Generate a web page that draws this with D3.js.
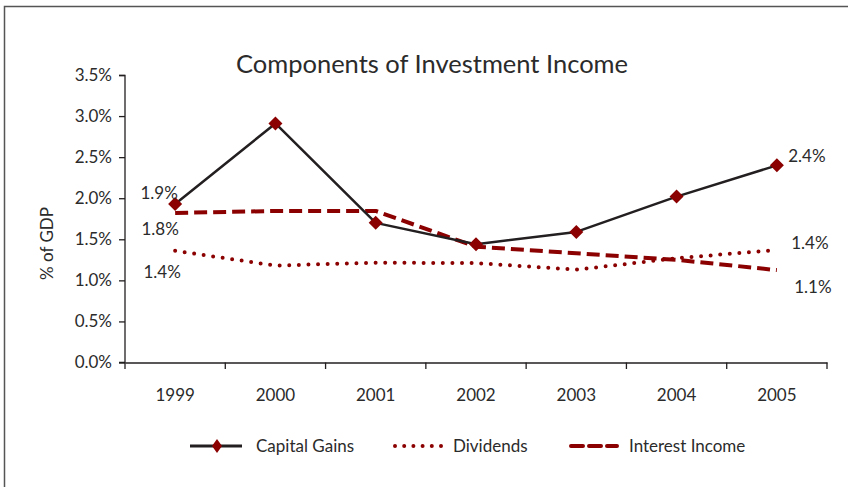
<!DOCTYPE html>
<html><head><meta charset="utf-8">
<script src="https://cdn.jsdelivr.net/npm/d3@7"></script>
<style>body{margin:0;background:#fff}svg{display:block}text{font-family:Lato,sans-serif;fill:#2b2b2b}</style>
</head><body><svg id="c" width="848" height="487"></svg>
<script>
const years = ["1999","2000","2001","2002","2003","2004","2005"];
const capitalGains = [1.93, 2.91, 1.70, 1.44, 1.59, 2.02, 2.40];
const dividends = [1.36, 1.18, 1.215, 1.21, 1.13, 1.27, 1.37];
const interestIncome = [1.82, 1.845, 1.845, 1.41, 1.33, 1.25, 1.125];
const yTicks = [0, 0.5, 1.0, 1.5, 2.0, 2.5, 3.0, 3.5];
const title = "Components of Investment Income";
const yTitle = "% of GDP";
const seriesNames = ["Capital Gains", "Dividends", "Interest Income"];
const endLabels = [
  {s:0, i:0, t:"1.9%"}, {s:2, i:0, t:"1.8%"}, {s:1, i:0, t:"1.4%"},
  {s:0, i:6, t:"2.4%"}, {s:1, i:6, t:"1.4%"}, {s:2, i:6, t:"1.1%"}
];

const svg = d3.select("#c");
const red = "#8b0000", dark = "#231f20", txt = "#2b2b2b";
const FONT = "Lato";
svg.append("path").attr("d","M4.5,487 V6.5 H848").attr("fill","none").attr("stroke","#555").attr("stroke-width",1.5);

const x = d3.scaleBand().domain(years).range([125, 827]);
const y = d3.scaleLinear().domain([0, 3.5]).range([362.5, 75]);

svg.append("text").attr("x", 432).attr("y", 73).attr("text-anchor","middle")
  .style("font-size","25.5px").text(title);

const ya = svg.append("g").attr("transform","translate(125,0)")
  .call(d3.axisLeft(y).tickValues(yTicks).tickFormat(d => d.toFixed(1) + "%").tickSize(6).tickPadding(7));
ya.select(".domain").attr("stroke", dark).attr("stroke-width",1.3).attr("d","M-6,75.5H0V362.5H-6");
ya.selectAll(".tick line").attr("stroke", dark).attr("stroke-width",1.3);
ya.selectAll(".tick text").style("font-size","17px").attr("fill",txt).style("font-family",FONT);

const xa = svg.append("g").attr("transform","translate(0,362.5)")
  .call(d3.axisBottom(x).tickSize(0).tickPadding(26));
xa.select(".domain").attr("stroke", dark).attr("stroke-width",1.3);
xa.selectAll(".tick text").style("font-size","17px").attr("fill",txt).style("font-family",FONT);
const edges = years.map(d => x(d)).concat([x.range()[1]]);
svg.append("g").selectAll("line").data(edges).join("line")
  .attr("x1", d => d).attr("x2", d => d).attr("y1", 362.5).attr("y2", 369)
  .attr("stroke", dark).attr("stroke-width",1.3);

svg.append("text").attr("transform","translate(53,243.5) rotate(-90)").attr("text-anchor","middle")
  .style("font-size","17px").text(yTitle);

const cx = d => x(d) + x.bandwidth()/2;
const line = d3.line().x((d,i) => cx(years[i])).y(d => y(d));

const styles = [
  {data: capitalGains, stroke: dark, w: 2.5, dash: null, cap: "butt"},
  {data: dividends, stroke: red, w: 4, dash: "0,9.6", cap: "round"},
  {data: interestIncome, stroke: red, w: 4, dash: "13,6", cap: "butt"}
];
[1,2,0].forEach(k => {
  const s = styles[k];
  svg.append("path").attr("d", line(s.data)).attr("fill","none")
    .attr("stroke", s.stroke).attr("stroke-width", s.w)
    .attr("stroke-dasharray", s.dash).attr("stroke-linecap", s.cap).attr("stroke-linejoin","round");
});
const diamond = "M0,-7L7,0L0,7L-7,0Z";
svg.append("g").selectAll("path").data(capitalGains).join("path")
  .attr("d", diamond).attr("fill", red)
  .attr("transform", (d,i) => `translate(${cx(years[i])},${y(d)})`);

const sData = [capitalGains, dividends, interestIncome];
const labelOffsets = {"0-0":[-16,-5], "2-0":[-15,22], "1-0":[-13,27], "0-6":[30,-3.5], "1-6":[33,-1], "2-6":[36,23]};
svg.append("g").selectAll("text").data(endLabels).join("text")
  .attr("x", d => cx(years[d.i]) + labelOffsets[d.s+"-"+d.i][0])
  .attr("y", d => y(sData[d.s][d.i]) + labelOffsets[d.s+"-"+d.i][1])
  .attr("text-anchor","middle").style("font-size","17px").text(d => d.t);

const lg = svg.append("g");
const legendX = [190, 393, 569];
seriesNames.forEach((n, k) => {
  const s = styles[k];
  const x0 = legendX[k];
  lg.append("line").attr("x1", x0 + (k===0?0:2)).attr("x2", x0 + (k===0?52:48)).attr("y1", 446).attr("y2", 446)
    .attr("stroke", s.stroke).attr("stroke-width", k===0 ? 3 : s.w)
    .attr("stroke-dasharray", k===1 ? "0,9.2" : (k===2 ? "12,6" : null))
    .attr("stroke-linecap", k===0 ? "butt" : "round");
  if (k === 0) lg.append("path").attr("d", "M0,-7L5,0L0,7L-5,0Z").attr("fill", red).attr("transform", `translate(${x0+27},446)`);
  lg.append("text").attr("x", x0 + (k===0?66:60)).attr("y", 452).style("font-size","17px").text(n);
});
</script></body></html>
